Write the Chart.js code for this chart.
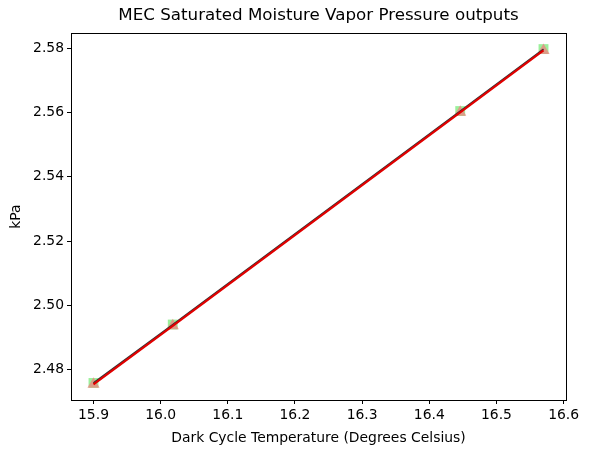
<!DOCTYPE html>
<html>
<head>
<meta charset="utf-8">
<script src="https://cdn.jsdelivr.net/npm/chart.js@4/dist/chart.umd.min.js"></script>
<style>
  html, body { margin: 0; padding: 0; background: #fff; }
  #wrap { width: 589px; height: 453px; }
</style>
</head>
<body>
<div id="wrap"><canvas id="myChart"></canvas></div>
<script>
// temperatures (deg C) and pressures (kPa)
const temps = [15.9, 16.018, 16.446, 16.57];
const pressSquares = [2.4758, 2.4940, 2.5605, 2.5798];
const pressTriangles = [2.4754, 2.4936, 2.5601, 2.5794];
const xTicks = [15.9, 16.0, 16.1, 16.2, 16.3, 16.4, 16.5, 16.6];
const yTicks = [2.48, 2.50, 2.52, 2.54, 2.56, 2.58];

const pts = (ys) => temps.map((t, i) => ({ x: t, y: ys[i] }));
const FONT = 'DejaVu Sans';

// box round the plot area, like matplotlib's spines
const frame = {
  id: 'frame',
  afterDatasetsDraw(chart) {
    const a = chart.chartArea, c = chart.ctx;
    c.save();
    c.strokeStyle = '#000';
    c.lineWidth = 1;
    c.strokeRect(Math.round(a.left) + 0.5, Math.round(a.top) + 0.5,
      Math.round(a.right - a.left), Math.round(a.bottom - a.top));
    c.restore();
  }
};

const ctx = document.getElementById('myChart').getContext('2d');
new Chart(ctx, {
  type: 'scatter',
  data: {
    datasets: [
      { data: pts(pressTriangles), showLine: true, borderColor: '#e00000', borderWidth: 2.2, pointRadius: 0 },
      { data: pts(pressSquares), showLine: true, borderColor: '#333', borderWidth: 1.6, pointRadius: 0 },
      { data: pts(pressTriangles), pointStyle: 'triangle', pointRadius: 7,
        backgroundColor: 'rgba(240,128,128,0.75)', borderWidth: 0 },
      { data: pts(pressSquares), pointStyle: 'rect', pointRadius: 7,
        backgroundColor: 'rgba(144,238,144,0.9)', borderWidth: 0 }
    ]
  },
  options: {
    responsive: true,
    maintainAspectRatio: false,
    animation: false,
    layout: { padding: { right: 23 } },
    plugins: {
      legend: { display: false },
      tooltip: { enabled: false },
      title: {
        display: true,
        fullSize: false,
        text: 'MEC Saturated Moisture Vapor Pressure outputs',
        color: '#000',
        font: { family: FONT, size: 16.7, weight: 'normal' },
        padding: { top: 6, bottom: 7 }
      }
    },
    scales: {
      x: {
        type: 'linear',
        min: 15.8665,
        max: 16.6035,
        afterBuildTicks: (s) => { s.ticks = xTicks.map(v => ({ value: v })); },
        afterFit: (s) => { s.height = 53; },
        grid: { drawOnChartArea: false, tickLength: 4, tickColor: '#000' },
        border: { color: '#000' },
        ticks: {
          color: '#000', padding: 3,
          font: { family: FONT, size: 13.9 },
          callback: (v) => v.toFixed(1)
        },
        title: {
          display: true, text: 'Dark Cycle Temperature (Degrees Celsius)', color: '#000',
          font: { family: FONT, size: 13.9 }, padding: { top: 0, bottom: 6 }
        }
      },
      y: {
        type: 'linear',
        min: 2.4705,
        max: 2.5848,
        afterBuildTicks: (s) => { s.ticks = yTicks.map(v => ({ value: v })); },
        afterFit: (s) => { s.width = 71; },
        grid: { drawOnChartArea: false, tickLength: 4, tickColor: '#000' },
        border: { color: '#000' },
        ticks: {
          color: '#000', padding: 3,
          font: { family: FONT, size: 13.9 },
          callback: (v) => v.toFixed(2)
        },
        title: {
          display: true, text: 'kPa', color: '#000',
          font: { family: FONT, size: 13.9 }, padding: { top: 8, bottom: 0 }
        }
      }
    }
  },
  plugins: [frame]
});
</script>
</body>
</html>
